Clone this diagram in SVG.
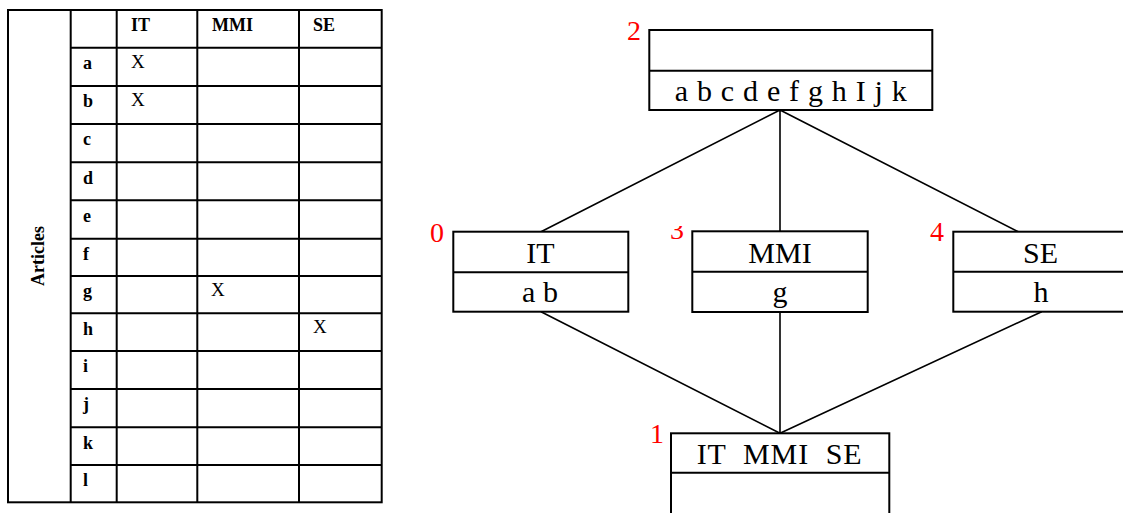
<svg xmlns="http://www.w3.org/2000/svg" width="1123" height="513" viewBox="0 0 1123 513">
<defs>
<style>
.tl{stroke:#000;stroke-width:2;fill:none}
.th{font-family:"Liberation Serif",serif;font-weight:bold;font-size:18px;fill:#000}
.tx{font-family:"Liberation Serif",serif;font-size:19px;fill:#000}
.box{stroke:#000;stroke-width:2;fill:#fff}
.lbl{font-family:"Liberation Serif",serif;font-size:30px;fill:#000;text-anchor:middle}
.num{font-family:"Liberation Serif",serif;font-size:28px;fill:#ff0000}
.con{stroke:#000;stroke-width:1.6;fill:none}
</style>
<clipPath id="c3"><rect x="660" y="226" width="40" height="20"/></clipPath>
</defs>
<rect width="1123" height="513" fill="#fff"/>
<g id="table">
<rect class="tl" x="8" y="10" width="373.7" height="492.3"/>
<path class="tl" d="M70.7 10V502.3M116.7 10V502.3M197.3 10V502.3M299 10V502.3
M70.7 47.7H381.7M70.7 86H381.7M70.7 124H381.7M70.7 162.3H381.7M70.7 200.3H381.7M70.7 238.7H381.7M70.7 276H381.7M70.7 313.3H381.7M70.7 351H381.7M70.7 389H381.7M70.7 427.3H381.7M70.7 465H381.7"/>
<text class="th" x="131" y="31">IT</text>
<text class="th" x="212" y="31">MMI</text>
<text class="th" x="313" y="31">SE</text>
<text class="th" x="83" y="69">a</text>
<text class="th" x="83" y="107.3">b</text>
<text class="th" x="83" y="145.3">c</text>
<text class="th" x="83" y="183.6">d</text>
<text class="th" x="83" y="221.6">e</text>
<text class="th" x="83" y="260">f</text>
<text class="th" x="83" y="297.3">g</text>
<text class="th" x="83" y="334.6">h</text>
<text class="th" x="83" y="372.3">i</text>
<text class="th" x="83" y="410.3">j</text>
<text class="th" x="83" y="448.6">k</text>
<text class="th" x="83" y="486.3">l</text>
<text class="tx" x="131" y="67.7">X</text>
<text class="tx" x="131" y="106">X</text>
<text class="tx" x="211" y="296">X</text>
<text class="tx" x="313" y="333.3">X</text>
<text class="th" font-size="21" text-anchor="middle" transform="translate(44,256) rotate(-90)">Articles</text>
</g>
<g id="connectors">
<path class="con" d="M780 110L541 231.7M780 110V231.7M780 110L1018.3 231.7M541 311.7L780 433.3M780 311.7V433.3M1041.7 311.7L780 433.3"/>
</g>
<g id="node2">
<rect class="box" x="649.3" y="30" width="283" height="80"/>
<path class="tl" d="M649.3 70.7H932.3"/>
<text class="lbl" font-size="26" x="790.8" y="100.7" textLength="232" lengthAdjust="spacing">a b c d e f g h I j k</text>
<text class="num" x="627" y="40">2</text>
</g>
<g id="node0">
<rect class="box" x="453.3" y="231.7" width="175" height="80"/>
<path class="tl" d="M453.3 272.3H628.3"/>
<text class="lbl" x="540.5" y="263.3">IT</text>
<text class="lbl" x="540" y="301.7">a b</text>
<text class="num" x="430" y="241.7">0</text>
</g>
<g id="node3">
<rect class="box" x="692.3" y="231.3" width="175.4" height="80.7"/>
<path class="tl" d="M692.3 271.7H867.7"/>
<text class="lbl" x="780" y="263.3">MMI</text>
<text class="lbl" x="780" y="301.7">g</text>
<text class="num" x="670" y="239" clip-path="url(#c3)">3</text>
</g>
<g id="node4">
<rect class="box" x="953.3" y="231.7" width="180" height="80"/>
<path class="tl" d="M953.3 271.7H1133.3"/>
<text class="lbl" x="1040.5" y="263.3">SE</text>
<text class="lbl" x="1041" y="301.7">h</text>
<text class="num" x="930" y="240.7">4</text>
</g>
<g id="node1">
<rect class="box" x="671" y="433.3" width="218.3" height="90"/>
<path class="tl" d="M671 472.7H889.3"/>
<text class="lbl" x="779.2" y="464" textLength="165" lengthAdjust="spacing" xml:space="preserve">IT  MMI  SE</text>
<text class="num" x="650" y="442.7">1</text>
</g>
</svg>
